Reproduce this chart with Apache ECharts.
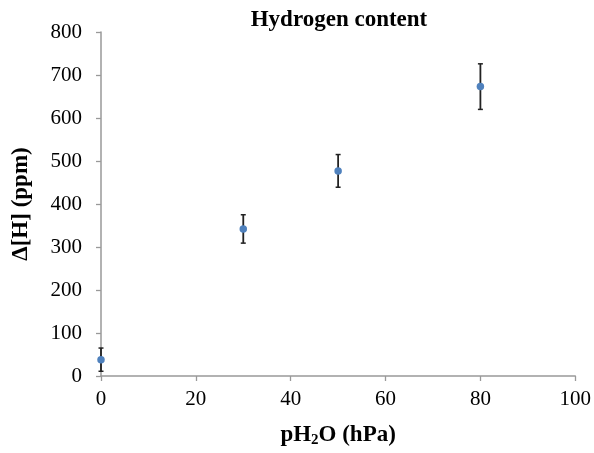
<!DOCTYPE html>
<html>
<head>
<meta charset="utf-8">
<script src="https://cdn.jsdelivr.net/npm/echarts@6/dist/echarts.min.js"></script>
<style>html,body{margin:0;padding:0;background:#fff;}#main{width:594px;height:453px;}</style>
</head>
<body>
<div id="main"></div>
<script>
var pressure = [0, 30, 50, 80];
var hydrogen = [38, 342, 477, 673];
var errors = [27, 33, 38, 53];

var font = '"Liberation Serif", "Times New Roman", serif';
var points = pressure.map(function (p, i) { return [p, hydrogen[i]]; });
var bars = pressure.map(function (p, i) { return [p, hydrogen[i] - errors[i], hydrogen[i] + errors[i]]; });

var myChart = echarts.init(document.getElementById('main'));
myChart.setOption({
    animation: false,
    title: {
        text: 'Hydrogen content',
        left: 334, top: 4, textAlign: 'center',
        textStyle: { fontFamily: font, fontWeight: 'bold', fontSize: 23, color: '#000' }
    },
    grid: { left: 101, right: 17, top: 32, bottom: 73.5 },
    xAxis: {
        type: 'value', min: 0, max: 100, interval: 20,
        name: '{a|pH}{s|2}{a|O (hPa)}',
        nameLocation: 'middle', nameGap: 47,
        nameTextStyle: {
            rich: {
                a: { fontFamily: font, fontWeight: 'bold', fontSize: 23, color: '#000' },
                s: { fontFamily: font, fontWeight: 'bold', fontSize: 15, color: '#000', verticalAlign: 'bottom', padding: [10, 0, 0, 0] }
            }
        },
        axisLine: { lineStyle: { color: '#999', width: 1.5 } },
        axisTick: { show: true, length: 5, lineStyle: { color: '#999', width: 1.3 } },
        axisLabel: { fontFamily: font, fontSize: 21, color: '#000', margin: 13 },
        splitLine: { show: false }
    },
    yAxis: {
        type: 'value', min: 0, max: 800, interval: 100,
        name: 'Δ[H] (ppm)',
        nameLocation: 'middle', nameGap: 68, nameRotate: 90,
        nameTextStyle: { fontFamily: font, fontWeight: 'bold', fontSize: 23, color: '#000' },
        axisLine: { show: true, lineStyle: { color: '#999', width: 1.5 } },
        axisTick: { show: true, length: 5, lineStyle: { color: '#999', width: 1.3 } },
        axisLabel: { fontFamily: font, fontSize: 21, color: '#000', margin: 19 },
        splitLine: { show: false }
    },
    series: [{
        type: 'custom',
        data: bars,
        z: 1,
        renderItem: function (params, api) {
            var top = api.coord([api.value(0), api.value(2)]);
            var bot = api.coord([api.value(0), api.value(1)]);
            var w = 2.5;
            return {
                type: 'group',
                children: [
                    { type: 'line', shape: { x1: top[0], y1: top[1], x2: bot[0], y2: bot[1] }, style: { stroke: '#222', lineWidth: 1.8 } },
                    { type: 'line', shape: { x1: top[0] - w, y1: top[1], x2: top[0] + w, y2: top[1] }, style: { stroke: '#222', lineWidth: 1.5 } },
                    { type: 'line', shape: { x1: bot[0] - w, y1: bot[1], x2: bot[0] + w, y2: bot[1] }, style: { stroke: '#222', lineWidth: 1.5 } }
                ]
            };
        }
    }, {
        type: 'scatter',
        data: points,
        symbolSize: 7.5,
        z: 3,
        itemStyle: { color: '#4f81bd', opacity: 1 }
    }]
});
</script>
</body>
</html>
